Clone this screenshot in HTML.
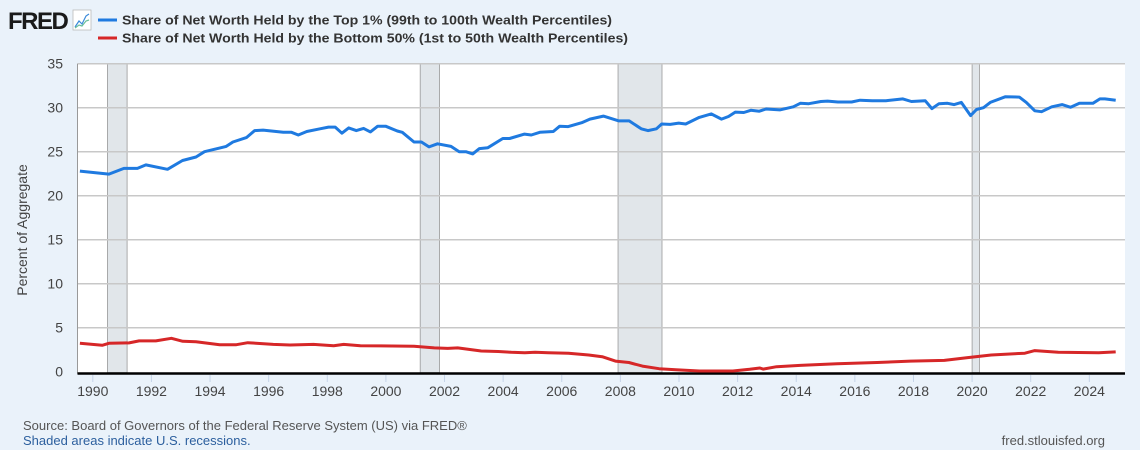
<!DOCTYPE html>
<html><head><meta charset="utf-8"><style>
html,body{margin:0;padding:0;background:#eaf2fa;}
svg{display:block;font-family:"Liberation Sans",Arial,sans-serif;}
</style></head><body>
<svg id="chart" width="1140" height="450" viewBox="0 0 1140 450" xmlns="http://www.w3.org/2000/svg">
<rect x="0" y="0" width="1140" height="450" fill="#eaf2fa"/>
<g>
  <text x="8" y="29" font-size="24" font-weight="bold" fill="#1a1a1a" letter-spacing="-1.5">FRED</text>
  <g>
    <rect x="73" y="10" width="18" height="20" fill="#fff" stroke="#bbb" stroke-width="0.8"/>
    <polyline points="75,27 79,21 82,24 86,16 89,14" fill="none" stroke="#3b8ad9" stroke-width="1.2"/>
    <polyline points="75,28 79,25 82,26 86,21 89,20" fill="none" stroke="#6bbf9a" stroke-width="1.2"/>
  </g>
  <g>
    <line x1="98" y1="20" x2="117" y2="20" stroke="#1f7ae0" stroke-width="3"/>
    <text x="122" y="24.5" font-size="13" font-weight="bold" fill="#333" textLength="490" lengthAdjust="spacingAndGlyphs">Share of Net Worth Held by the Top 1% (99th to 100th Wealth Percentiles)</text>
  </g>
  <g>
    <line x1="98" y1="38" x2="117" y2="38" stroke="#d62728" stroke-width="3"/>
    <text x="122" y="42.5" font-size="13" font-weight="bold" fill="#333" textLength="506" lengthAdjust="spacingAndGlyphs">Share of Net Worth Held by the Bottom 50% (1st to 50th Wealth Percentiles)</text>
  </g>
</g>
<g id="plot"></g>
<text transform="translate(27,230) rotate(-90)" text-anchor="middle" font-size="14" fill="#444">Percent of Aggregate</text>
<text x="23" y="430" font-size="13" fill="#555">Source: Board of Governors of the Federal Reserve System (US) via FRED®</text>
<text x="23" y="445" font-size="13" fill="#2c5f9e">Shaded areas indicate U.S. recessions.</text>
<text x="1105" y="445" font-size="13" fill="#555" text-anchor="end">fred.stlouisfed.org</text>
</svg>
<script>
const top1Dates = [1989.56,1990.55,1991.06,1991.52,1991.81,1992.55,1993.06,1993.52,1993.81,1994.55,1994.78,1995.24,1995.52,1995.81,1996.50,1996.78,1997.01,1997.30,1997.75,1998.04,1998.27,1998.50,1998.73,1998.99,1999.24,1999.47,1999.72,1999.99,2000.39,2000.56,2000.96,2001.21,2001.47,2001.76,2002.22,2002.50,2002.73,2002.96,2003.19,2003.48,2003.99,2004.22,2004.73,2004.96,2005.25,2005.71,2005.93,2006.22,2006.68,2006.96,2007.42,2007.95,2008.30,2008.71,2008.94,2009.23,2009.41,2009.70,2009.99,2010.23,2010.69,2011.10,2011.45,2011.69,2011.92,2012.21,2012.45,2012.74,2012.97,2013.44,2013.90,2014.14,2014.43,2014.84,2015.07,2015.42,2015.89,2016.18,2016.59,2017.06,2017.64,2017.93,2018.40,2018.63,2018.87,2019.16,2019.39,2019.63,2019.95,2020.15,2020.39,2020.62,2021.14,2021.61,2021.85,2022.14,2022.37,2022.72,2023.07,2023.36,2023.66,2024.12,2024.36,2024.53,2024.90];
const top1Values = [22.8,22.45,23.1,23.1,23.5,23.0,24.0,24.4,25.0,25.6,26.1,26.6,27.4,27.45,27.2,27.2,26.9,27.3,27.6,27.8,27.8,27.1,27.7,27.4,27.65,27.25,27.9,27.9,27.35,27.2,26.1,26.1,25.55,25.9,25.6,25.0,25.0,24.75,25.35,25.45,26.5,26.5,27.0,26.9,27.2,27.3,27.9,27.85,28.3,28.7,29.05,28.5,28.5,27.6,27.4,27.6,28.15,28.1,28.25,28.15,28.9,29.3,28.7,29.0,29.5,29.45,29.7,29.6,29.85,29.75,30.1,30.5,30.45,30.7,30.75,30.65,30.65,30.85,30.8,30.8,31.0,30.7,30.8,29.9,30.45,30.5,30.35,30.6,29.1,29.8,30.0,30.6,31.25,31.2,30.6,29.65,29.55,30.1,30.35,30.05,30.5,30.5,31.0,31.0,30.85];
const bottom50Dates = [1989.56,1990.32,1990.55,1991.24,1991.58,1992.15,1992.68,1993.07,1993.52,1994.33,1994.90,1995.29,1996.16,1996.73,1997.53,1998.22,1998.56,1999.13,2000.96,2001.65,2002.11,2002.45,2003.25,2003.83,2004.28,2004.74,2005.09,2005.54,2006.23,2006.92,2007.38,2007.83,2008.29,2008.75,2009.32,2009.89,2010.70,2011.84,2012.41,2012.76,2012.87,2013.33,2014.13,2015.39,2016.76,2017.90,2019.05,2019.85,2020.65,2021.80,2022.14,2022.94,2024.32,2024.90];
const bottom50Values = [3.23,3.0,3.23,3.27,3.5,3.5,3.8,3.45,3.4,3.07,3.07,3.3,3.1,3.03,3.1,2.95,3.1,2.95,2.9,2.7,2.65,2.7,2.35,2.3,2.2,2.15,2.2,2.15,2.1,1.9,1.7,1.2,1.05,0.64,0.34,0.23,0.08,0.08,0.27,0.42,0.3,0.57,0.72,0.9,1.05,1.2,1.28,1.6,1.9,2.1,2.4,2.2,2.15,2.25];
const recessionStarts = [1990.5,2001.17,2007.92,2020.0];
const recessionEnds = [1991.17,2001.83,2009.42,2020.25];
const yTicks = [0,5,10,15,20,25,30,35];
const xTickYears = [1990,1992,1994,1996,1998,2000,2002,2004,2006,2008,2010,2012,2014,2016,2018,2020,2022,2024];

const L=77.5, R=1125, T=63.7, B=371.7;
const xS = y => 92.8 + (y-1990)*29.31;
const yS = v => B - (v/35)*(B-T);
const NS='http://www.w3.org/2000/svg';
const plot=document.getElementById('plot');
function mk(tag, attrs){const e=document.createElementNS(NS,tag);for(const k in attrs)e.setAttribute(k,attrs[k]);plot.appendChild(e);return e;}

const bg=mk('rect',{x:L,y:T,width:R-L,height:B-T+2,fill:'#fff'});



recessionStarts.forEach((s,i)=>{
  const r=mk('rect',{x:xS(s),y:T,width:xS(recessionEnds[i])-xS(s),height:B-T+1,fill:'#e1e6ea',stroke:'#999','stroke-width':0.8});
  
  
});

yTicks.forEach(v=>{
  if(v>0){
    const g=mk('line',{x1:L,x2:R,y1:yS(v),y2:yS(v),stroke:'#c8c8c8','stroke-width':1.5});
    
    
  }
  const t=mk('text',{x:63,y:yS(v)+5,'text-anchor':'end','font-size':14,fill:'#444'});
  t.textContent=v;
  
  
});
const lb=mk('line',{x1:L,x2:L,y1:T,y2:B+2,stroke:'#999','stroke-width':1});



xTickYears.forEach(y=>{
  const tk=mk('line',{x1:xS(y),x2:xS(y),y1:375,y2:382,stroke:'#c5d3e8','stroke-width':1});
  
  
  const t=mk('text',{x:xS(y),y:396,'text-anchor':'middle','font-size':14,fill:'#444'});
  t.textContent=y;
  
  
});

const ax=mk('line',{x1:L,x2:R,y1:373.5,y2:373.5,stroke:'#000','stroke-width':2.5});



function series(dates, vals, color, name){
  const p=mk('polyline',{points:dates.map((d,i)=>xS(d).toFixed(1)+','+yS(vals[i]).toFixed(1)).join(' '),fill:'none',stroke:color,'stroke-width':3,'stroke-linejoin':'round'});
  
  
}
series(bottom50Dates, bottom50Values, '#d62728', 'bottom-50-line');
series(top1Dates, top1Values, '#1f7ae0', 'top-1-line');
</script>
</body></html>
